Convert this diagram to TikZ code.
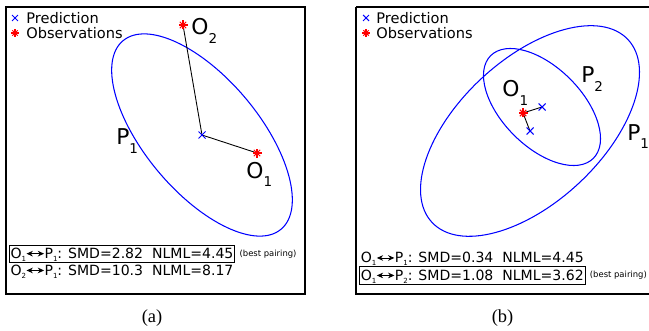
\documentclass[tikz,border=0pt]{standalone}
\usepackage{fontspec}
\setmainfont{DejaVu Sans}
\newfontfamily\capfont{Liberation Serif}
\usetikzlibrary{arrows.meta}
\newcommand{\lowsub}[1]{\raisebox{-0.38em}{\scalebox{0.62}{#1}}}
\newcommand{\tinysub}[1]{\raisebox{-0.22em}{\scalebox{0.5}{#1}}}
\newcommand{\pairarrow}{\tikz[baseline=-0.6ex]\draw[{Stealth[length=3.6pt,width=3.2pt]}-{Stealth[length=3.6pt,width=3.2pt]}, line width=0.5pt] (0,0) -- (10pt,0);}

\begin{document}
\begin{tikzpicture}[x=0.02cm, y=-0.02cm,
  ell/.style={blue, line width=0.6pt},
  link/.style={black, line width=0.5pt},
  frame/.style={black, line width=0.7pt},
  big/.style={anchor=base west, inner sep=0pt, font=\fontsize{12.4}{14}\selectfont},
  key/.style={anchor=west, inner sep=0pt, font=\fontsize{8.3}{9}\selectfont},
  score/.style={anchor=west, inner xsep=0.8pt, inner ysep=0pt, text height=7.5pt, text depth=2.3pt, line width=0.5pt, font=\fontsize{8}{9}\selectfont},
  note/.style={anchor=west, inner sep=0pt, font=\fontsize{4.8}{5}\selectfont},
  caption/.style={inner sep=0pt, font=\capfont\fontsize{10.5}{12}\selectfont},
  pred/.pic={\draw[blue, line width=0.6pt] (-3.5,-3.5) -- (3.5,3.5) (-3.5,3.5) -- (3.5,-3.5);},
  obs/.pic={\foreach \a in {0,45,90,135} \draw[red, line width=0.6pt] (\a:4.5) -- (\a+180:4.5);}]
\useasboundingbox (0,0) rectangle (649,331);

% panel (a)
\draw[frame] (6,7) rectangle (305,294);
\pic[scale=0.85] at (15,18) {pred};
\pic[scale=0.85] at (15,33) {obs};
\node[key] (keypa) at (26,18) {Prediction};
\node[key] (keyoa) at (26,33) {Observations};

\coordinate (pa) at (202,135);
\coordinate (oa1) at (257,153);
\coordinate (oa2) at (183,25);
\draw[ell, rotate around={-50:(pa)}] (pa) ellipse [x radius=123, y radius=57];
\draw[link] (oa2) -- (pa) -- (oa1);
\pic at (pa) {pred};
\pic at (oa1) {obs};
\pic at (oa2) {obs};
\node[big] (lbloa1) at (246,178) {O\lowsub{1}};
\node[big] (lbloa2) at (191,35) {O\lowsub{2}};
\node[big] (lblpa) at (116,145) {P\lowsub{1}};

\node[score, draw] (sa1) at (8.7,253.7) {O\tinysub{1}\pairarrow P\tinysub{1}: SMD=2.82\ \ NLML=4.45};
\node[score] (sa2) at (8.7,270.5) {O\tinysub{2}\pairarrow P\tinysub{1}: SMD=10.3\ \ NLML=8.17};
\node[note] (besta) at ([xshift=0.8mm]sa1.east) {(best pairing)};
\node[caption] (capa) at (152,318.5) {(a)};

% panel (b)
\draw[frame] (356,7) -- (652,7) (356,7) -- (356,294) -- (652,294);
\pic[scale=0.85] at (366,18) {pred};
\pic[scale=0.85] at (366,33) {obs};
\node[key] (keypb) at (376,18) {Prediction};
\node[key] (keyob) at (376,33) {Observations};

\coordinate (pb1) at (530,131);
\coordinate (pb2) at (542,107);
\coordinate (ob1) at (523,113);
\draw[ell, rotate around={43:(pb1)}] (pb1) ellipse [x radius=134, y radius=71.5];
\draw[ell, rotate around={-45:(pb2)}] (pb2) ellipse [x radius=72.6, y radius=39.7];
\draw[link] (pb2) -- (ob1) -- (pb1);
\pic at (pb1) {pred};
\pic at (pb2) {pred};
\pic at (ob1) {obs};
\node[big] (lblob1) at (502,97) {O\lowsub{1}};
\node[big] (lblpb2) at (581,83) {P\lowsub{2}};
\node[big] (lblpb1) at (627,140) {P\lowsub{1}};

\node[score] (sb1) at (359,258) {O\tinysub{1}\pairarrow P\tinysub{1}: SMD=0.34\ \ NLML=4.45};
\node[score, draw] (sb2) at (359,275.5) {O\tinysub{1}\pairarrow P\tinysub{2}: SMD=1.08\ \ NLML=3.62};
\node[note] (bestb) at ([xshift=0.8mm]sb2.east) {(best pairing)};
\node[caption] (capb) at (502.5,318.5) {(b)};
\end{tikzpicture}
\end{document}
